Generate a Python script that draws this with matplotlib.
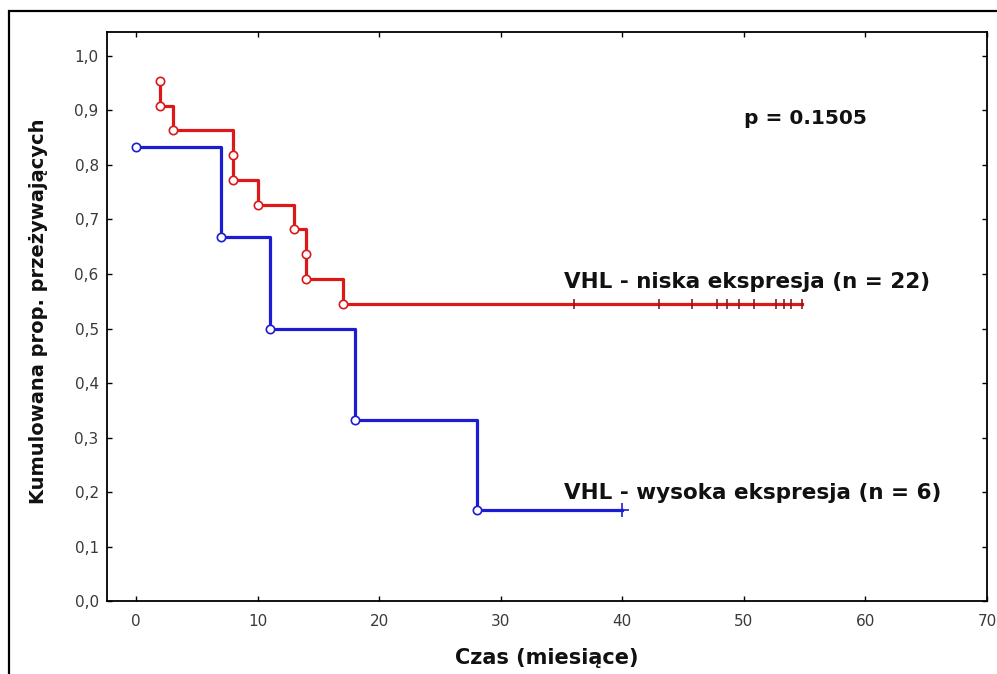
import matplotlib.pyplot as plt
from matplotlib.patches import Rectangle

# Kaplan-Meier estimates, VHL low expression (n = 22)
low_times = [2, 2, 3, 8, 8, 10, 13, 14, 14, 17]
low_surv = [0.955, 0.909, 0.864, 0.818, 0.773, 0.727, 0.682, 0.636, 0.591, 0.545]
low_censored = [36, 43, 45.7, 47.8, 48.6, 49.6, 50.8, 52.6, 53.3, 53.9, 54.8]

# VHL high expression (n = 6)
high_times = [0, 7, 11, 18, 28]
high_surv = [0.833, 0.667, 0.500, 0.333, 0.167]
high_censored = [40]

x_ticks = [0, 10, 20, 30, 40, 50, 60, 70]
y_ticks = [0.0, 0.1, 0.2, 0.3, 0.4, 0.5, 0.6, 0.7, 0.8, 0.9, 1.0]
y_ticklabels = ['0,0', '0,1', '0,2', '0,3', '0,4', '0,5', '0,6', '0,7', '0,8', '0,9', '1,0']

p_text = 'p = 0.1505'
low_label = 'VHL - niska ekspresja (n = 22)'
high_label = 'VHL - wysoka ekspresja (n = 6)'

RED = '#dc1818'
BLUE = '#1c1cd2'

fig = plt.figure(figsize=(9.97, 6.74), dpi=100)
ax = fig.add_axes([0.1073, 0.1083, 0.8827, 0.8442])


def km_curve(times, surv, censored, color, cens_marker, cens_color, cens_size):
    xs = list(times) + [max(censored)]
    ys = list(surv) + [surv[-1]]
    ax.step(xs, ys, where='post', color=color, lw=2.3, zorder=2)
    ax.plot(times, surv, ls='none', marker='o', ms=6, mfc='white',
            mec=color, mew=1.2, zorder=3)
    ax.plot(censored, [surv[-1]] * len(censored), ls='none', marker=cens_marker,
            ms=cens_size, color=cens_color, mew=1.2, zorder=3)


km_curve(low_times, low_surv, low_censored, RED, '|', '#8a1a1a', 7)
km_curve(high_times, high_surv, high_censored, BLUE, '+', BLUE, 10)

ax.set_xlim(-2.4, 70)
ax.set_ylim(0, 1.044)
ax.set_xticks(x_ticks)
ax.set_yticks(y_ticks)
ax.set_yticklabels(y_ticklabels)

ax.tick_params(direction='in', length=3.5, width=1, top=True, right=True,
               labelsize=11, labelcolor='#3a3a3a')
ax.tick_params(axis='x', pad=9)
ax.tick_params(axis='y', pad=6)
for s in ax.spines.values():
    s.set_linewidth(1.3)

bold = dict(family='DejaVu Sans', fontweight='bold', color='#111111')
ax.set_xlabel('Czas (miesiące)', fontsize=15, **bold)
ax.xaxis.set_label_coords(0.5, -0.083)
ax.set_ylabel('Kumulowana prop. przeżywających', fontsize=14, **bold)
ax.yaxis.set_label_coords(-0.067, 0.51)

ax.text(50.0, 0.885, p_text, fontsize=14.5, va='center', ha='left', **bold)
ax.text(35.2, 0.585, low_label, fontsize=15.5, va='center', ha='left', **bold)
ax.text(35.2, 0.199, high_label, fontsize=15.5, va='center', ha='left', **bold)

# outer frame, open towards the right and bottom edges
fig.patches.append(Rectangle((9 / 997, -0.1), 1.2, 1.1 - 11 / 674,
                             transform=fig.transFigure, fill=False,
                             lw=1.6, edgecolor='black'))

fig.savefig('out.png', dpi=100)
